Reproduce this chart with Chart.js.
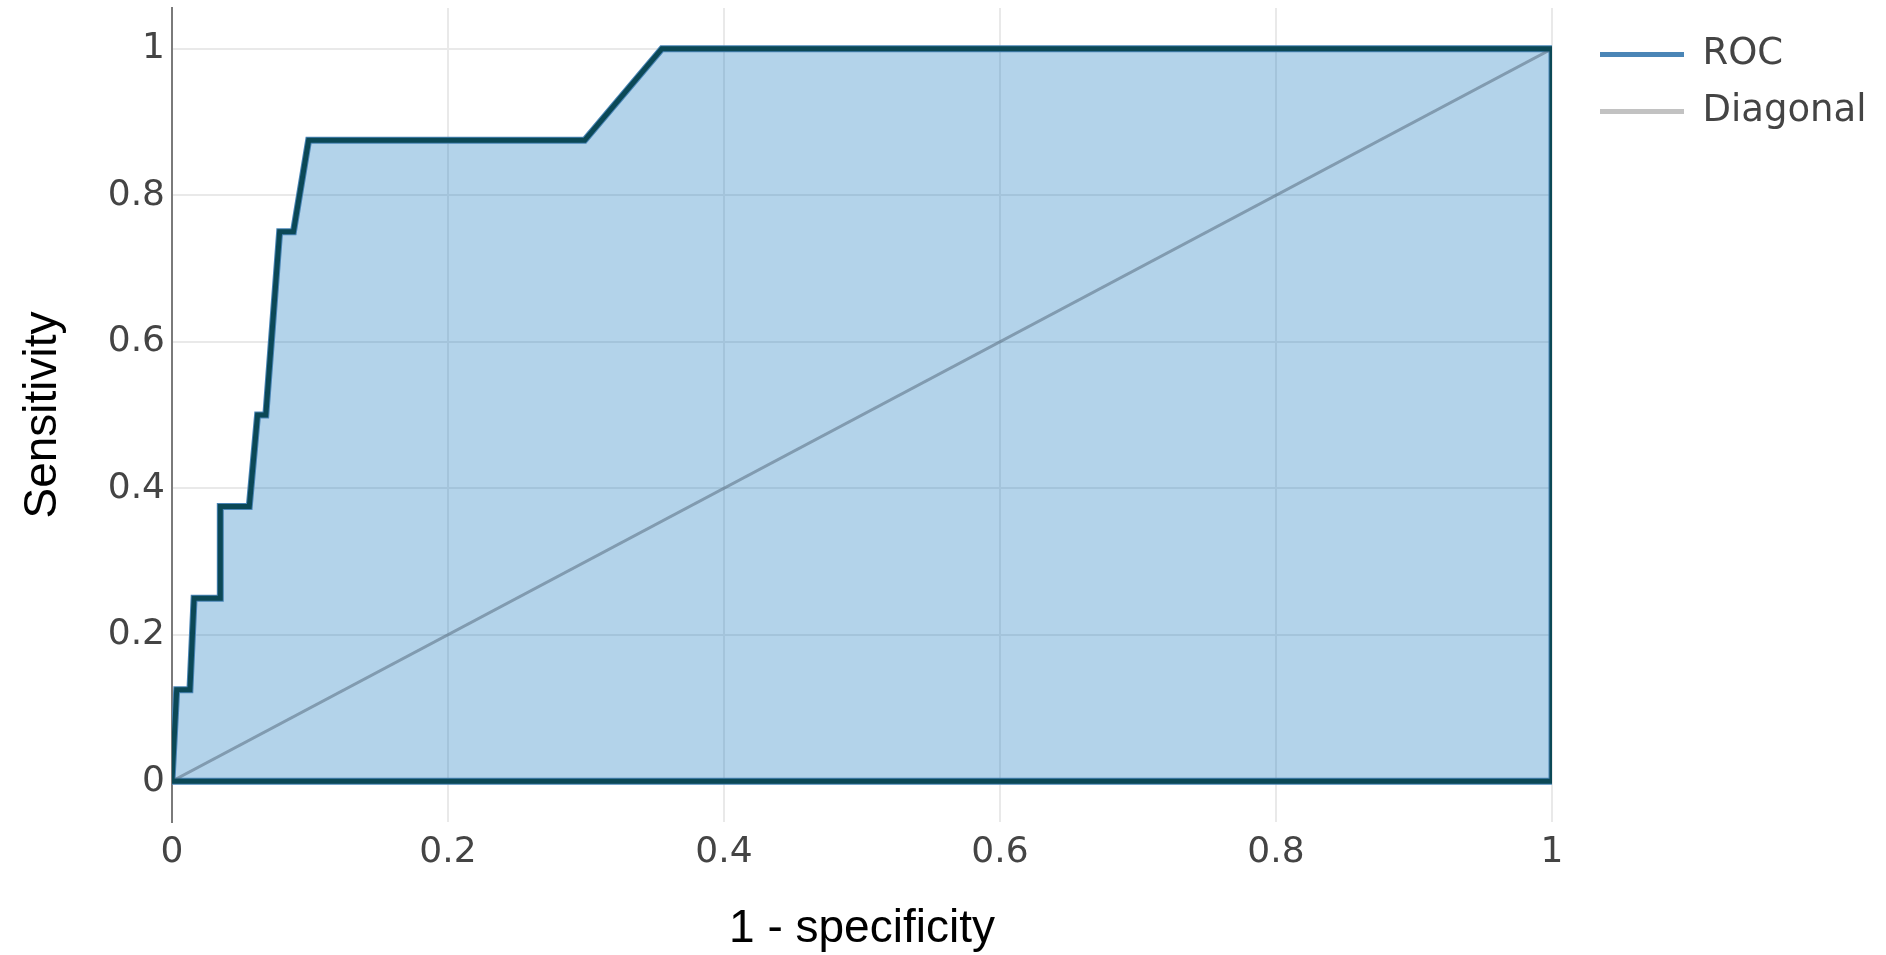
<!DOCTYPE html>
<html>
<head>
<meta charset="utf-8">
<title>ROC curve</title>
<script src="https://cdn.jsdelivr.net/npm/chart.js@4/dist/chart.umd.min.js"></script>
<style>
  html, body { margin: 0; padding: 0; background: #ffffff; }
  #wrap { width: 1886px; height: 955px; }
</style>
</head>
<body>
<div id="wrap"><canvas id="roc" width="1886" height="955"></canvas></div>
<script>
// ROC curve points: false positive rate (1 - specificity) vs true positive rate (sensitivity)
const fpr = [0, 0.0034, 0.013, 0.016, 0.035, 0.035, 0.056, 0.062, 0.068, 0.078, 0.088, 0.099, 0.299, 0.355, 1];
const tpr = [0, 0.125, 0.125, 0.25, 0.25, 0.375, 0.375, 0.5, 0.5, 0.75, 0.75, 0.875, 0.875, 1, 1];

// corners that close the area under the curve back along the baseline
const baseX = [1, 0];
const baseY = [0, 0];

// chance line
const diagX = [0, 1];
const diagY = [0, 1];

// axis ticks
const xTickValues = [0, 0.2, 0.4, 0.6, 0.8, 1];
const xTickLabels = ['0', '0.2', '0.4', '0.6', '0.8', '1'];
const yTickValues = [0, 0.2, 0.4, 0.6, 0.8, 1];
const yTickLabels = ['0', '0.2', '0.4', '0.6', '0.8', '1'];

const seriesNames = ['ROC', 'Diagonal'];

// styling
const COLORS = {
  rocLine: '#4a85b6',
  rocFill: 'rgba(38, 129, 195, 0.35)',
  outline: '#0b4856',
  diagonal: 'rgba(80, 100, 118, 0.5)',
  diagonalKey: '#c2c2c2',
  grid: '#e9e9e9',
  axis: '#7a7a7a',
  tick: '#444444',
  title: '#000000'
};
const Y_PAD = 1 / 18;          // headroom above 1 and below 0
const LEGEND_OFFSET = { x: 28, y: 8 };

const toPoints = (xs, ys) => xs.map((x, i) => ({ x: x, y: ys[i] }));
const rocShape = toPoints(fpr, tpr).concat(toPoints(baseX, baseY));
const diagonal = toPoints(diagX, diagY);

// nudges the legend block away from the plot area
const legendNudge = {
  id: 'legendNudge',
  afterLayout(chart) {
    const lg = chart.legend;
    if (!lg) return;
    lg.left += LEGEND_OFFSET.x; lg.right += LEGEND_OFFSET.x;
    lg.top += LEGEND_OFFSET.y; lg.bottom += LEGEND_OFFSET.y;
  }
};

new Chart(document.getElementById('roc'), {
  type: 'line',
  data: {
    datasets: [
      {
        label: 'outline',
        data: rocShape,
        borderColor: COLORS.outline,
        borderWidth: 5,
        borderJoinStyle: 'miter',
        pointRadius: 0,
        fill: false,
        tension: 0,
        order: 0
      },
      {
        label: seriesNames[1],
        data: diagonal,
        borderColor: COLORS.diagonal,
        borderWidth: 3,
        pointRadius: 0,
        fill: false,
        order: 1
      },
      {
        label: seriesNames[0],
        data: rocShape,
        borderColor: COLORS.rocLine,
        backgroundColor: COLORS.rocFill,
        borderWidth: 7,
        borderJoinStyle: 'miter',
        pointRadius: 0,
        fill: 'shape',
        tension: 0,
        order: 2
      }
    ]
  },
  options: {
    responsive: false,
    animation: false,
    devicePixelRatio: 1,
    layout: { padding: { top: 8, right: 0, bottom: 0, left: 0 } },
    plugins: {
      tooltip: { enabled: false },
      legend: {
        position: 'right',
        align: 'start',
        labels: {
          boxWidth: 84,
          boxHeight: 5,
          padding: 20,
          color: COLORS.tick,
          font: { family: 'DejaVu Sans', size: 37 },
          generateLabels: () => [
            { text: seriesNames[0], fillStyle: COLORS.rocLine, strokeStyle: COLORS.rocLine, lineWidth: 0, fontColor: COLORS.tick, hidden: false, datasetIndex: 2 },
            { text: seriesNames[1], fillStyle: COLORS.diagonalKey, strokeStyle: COLORS.diagonalKey, lineWidth: 0, fontColor: COLORS.tick, hidden: false, datasetIndex: 1 }
          ]
        }
      }
    },
    scales: {
      x: {
        type: 'linear',
        min: 0,
        max: 1,
        afterBuildTicks: s => { s.ticks = xTickValues.map(v => ({ value: v })); },
        afterFit: s => { s.height = 133; s.paddingRight = 334; s.paddingLeft = 0; },
        ticks: {
          padding: 9,
          color: COLORS.tick,
          font: { family: 'DejaVu Sans', size: 36 },
          callback: (v, i) => xTickLabels[i],
          maxRotation: 0
        },
        grid: { color: COLORS.grid, lineWidth: 2, drawTicks: false },
        border: { display: false },
        title: {
          display: true,
          text: '1 - specificity',
          color: COLORS.title,
          font: { family: 'Liberation Sans', size: 46, lineHeight: 1 },
          padding: { top: 0, bottom: 3 }
        }
      },
      y: {
        type: 'linear',
        min: -Y_PAD,
        max: 1 + Y_PAD,
        afterBuildTicks: s => { s.ticks = yTickValues.map(v => ({ value: v })); },
        afterFit: s => { s.width = 172; s.paddingTop = 0; s.paddingBottom = 0; },
        ticks: {
          padding: 7,
          color: COLORS.tick,
          font: { family: 'DejaVu Sans', size: 36 },
          callback: (v, i) => yTickLabels[i]
        },
        grid: { color: COLORS.grid, lineWidth: 2, drawTicks: false },
        border: { display: true, color: COLORS.axis, width: 2 },
        title: {
          display: true,
          text: 'Sensitivity',
          color: COLORS.title,
          font: { family: 'Liberation Sans', size: 46, lineHeight: 1 },
          padding: { top: 20, bottom: 0 }
        }
      }
    }
  },
  plugins: [legendNudge]
});
</script>
</body>
</html>
